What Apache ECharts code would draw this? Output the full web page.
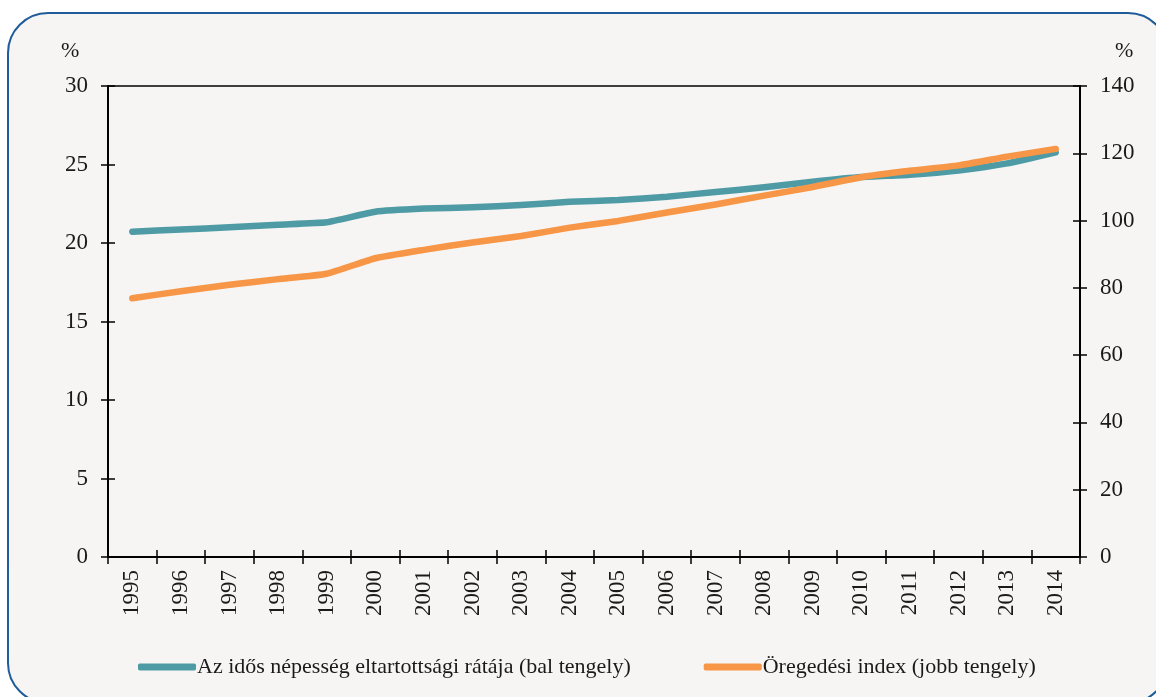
<!DOCTYPE html>
<html>
<head>
<meta charset="utf-8">
<script src="https://cdn.jsdelivr.net/npm/echarts@6/dist/echarts.min.js"></script>
<style>
html,body{margin:0;padding:0;background:#ffffff;}
#chart{width:1156px;height:697px;}
</style>
</head>
<body>
<div id="chart"></div>
<script>
const years = ['1995','1996','1997','1998','1999','2000','2001','2002','2003','2004','2005','2006','2007','2008','2009','2010','2011','2012','2013','2014'];
const dependencyRatio = [20.72,20.86,21.0,21.17,21.32,21.99,22.19,22.28,22.42,22.62,22.74,22.95,23.25,23.55,23.9,24.2,24.35,24.62,25.07,25.78];
const agingIndex = [76.9,79.0,80.9,82.6,84.2,88.8,91.3,93.5,95.4,97.9,99.9,102.4,104.8,107.4,110.0,112.9,114.8,116.4,119.0,121.3];
const leftTicks = {min:0, max:30, interval:5};
const rightTicks = {min:0, max:140, interval:20};
const seriesNames = ['Az idős népesség eltartottsági rátája (bal tengely)','Öregedési index (jobb tengely)'];

const font = 'Liberation Serif';
const chart = echarts.init(document.getElementById('chart'));
const axisLine = {show:true, lineStyle:{color:'#000', width:2}};
const tickOut = {show:true, inside:false, length:7, lineStyle:{color:'#000', width:1.5}};
const tickIn = {show:true, inside:true, length:7, lineStyle:{color:'#000', width:1.5}};
const lbl = {color:'#1a1a1a', fontFamily:font, fontSize:23};

chart.setOption({
  backgroundColor:'#ffffff',
  animation:false,
  graphic:[
    {type:'rect', z:-10, silent:true, shape:{x:8, y:13, width:1160, height:690, r:40},
     style:{fill:'#F6F5F3', stroke:'#1F5C99', lineWidth:2}},
    {type:'text', left:61, top:40, style:{text:'%', fill:'#1a1a1a', font:'22px "Liberation Serif"'}},
    {type:'text', left:1115, top:40, style:{text:'%', fill:'#1a1a1a', font:'22px "Liberation Serif"'}}
  ],
  grid:{left:108, right:76, top:86, bottom:140, show:true, borderColor:'#000', borderWidth:1.5, backgroundColor:'transparent'},
  legend:{
    left:133, top:651, itemGap:73, itemWidth:58, itemHeight:7, icon:'roundRect',
    textStyle:{fontFamily:font, fontSize:22, color:'#1a1a1a', padding:[0,0,0,-4]},
    data:seriesNames
  },
  xAxis:[
    {type:'category', data:years, boundaryGap:true, axisLine:axisLine, axisTick:tickOut,
     axisLabel:Object.assign({rotate:90, margin:13, interval:0}, lbl), splitLine:{show:false}},
    {type:'category', data:years, position:'bottom', boundaryGap:true, axisLine:{show:false}, axisTick:tickIn,
     axisLabel:{show:false}, splitLine:{show:false}}
  ],
  yAxis:[
    {type:'value', position:'left', min:leftTicks.min, max:leftTicks.max, interval:leftTicks.interval,
     axisLine:axisLine, axisTick:tickOut, axisLabel:Object.assign({margin:20}, lbl), splitLine:{show:false}},
    {type:'value', position:'right', min:rightTicks.min, max:rightTicks.max, interval:rightTicks.interval,
     axisLine:axisLine, axisTick:tickOut, axisLabel:Object.assign({margin:20}, lbl), splitLine:{show:false}},
    {type:'value', position:'left', min:leftTicks.min, max:leftTicks.max, interval:leftTicks.interval,
     axisLine:{show:false}, axisTick:tickIn, axisLabel:{show:false}, splitLine:{show:false}},
    {type:'value', position:'right', min:rightTicks.min, max:rightTicks.max, interval:rightTicks.interval,
     axisLine:{show:false}, axisTick:tickIn, axisLabel:{show:false}, splitLine:{show:false}}
  ],
  series:[
    {name:seriesNames[0], type:'line', data:dependencyRatio, xAxisIndex:0, yAxisIndex:0,
     symbol:'none', smooth:0.15, color:'#4F9BA5', lineStyle:{width:6.5, color:'#4F9BA5', cap:'round', join:'round'}},
    {name:seriesNames[1], type:'line', data:agingIndex, xAxisIndex:0, yAxisIndex:1,
     symbol:'none', smooth:0.15, color:'#F79646', lineStyle:{width:6.5, color:'#F79646', cap:'round', join:'round'}}
  ]
});
</script>
</body>
</html>
